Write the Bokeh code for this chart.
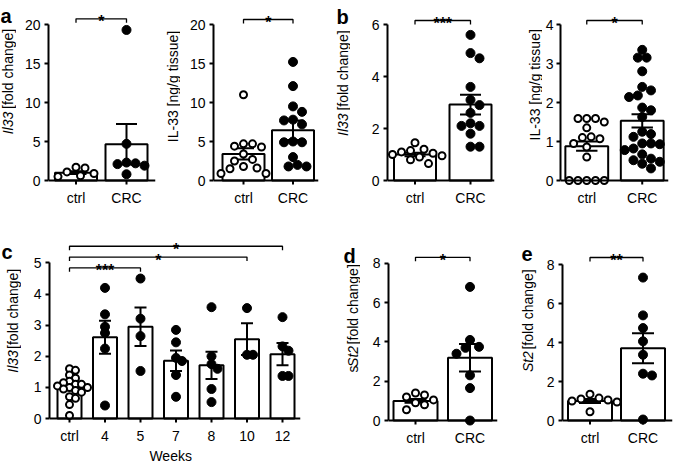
import math
from bokeh.plotting import figure
from bokeh.models import Range1d, FixedTicker, Span
from bokeh.layouts import row, column
from bokeh.embed import file_html
from bokeh.resources import INLINE
from bokeh.core.properties import value

FONT = "Liberation Sans"

# ---------------- data ----------------
groups2 = ["ctrl", "CRC"]

a1_ctrl = [1.7, 1.6, 1.1, 0.9, 0.6, 0.5]
a1_crc = [19.3, 4.7, 2.3, 2.2, 2.1, 1.9, 0.8]
a1_mean = [1.0, 4.65]
a1_sem = [0.18, 2.6]

a2_ctrl = [11.0, 4.7, 4.7, 4.4, 4.3, 3.4, 2.7, 2.5, 1.8, 1.6, 1.5, 0.9, 0.9]
a2_crc = [15.2, 12.1, 9.5, 8.8, 7.8, 7.7, 7.2, 5.0, 4.9, 4.9, 3.0, 2.0, 1.8, 1.8]
a2_mean = [3.4, 6.45]
a2_sem = [0.72, 1.25]

b1_ctrl = [1.45, 1.2, 1.15, 1.1, 1.05, 1.0, 0.95, 0.9, 0.8, 0.65]
b1_crc = [5.6, 4.9, 4.7, 3.6, 3.1, 2.9, 2.6, 2.2, 2.1, 2.1, 1.8, 1.3, 1.3]
b1_mean = [1.0, 2.92]
b1_sem = [0.07, 0.38]

b2_ctrl = [1.59, 1.59, 1.59, 1.5, 1.35, 1.12, 1.1, 1.07, 0.95, 0.86, 0.6, 0, 0, 0, 0, 0]
b2_crc = [3.35, 3.15, 3.15, 2.8, 2.4, 2.31, 2.18, 2.14, 1.87, 1.8, 1.63, 1.25, 1.19,
          1.12, 0.95, 0.95, 0.93, 0.82, 0.78, 0.67, 0.56, 0.52, 0.48, 0.43, 0.31]
b2_mean = [0.88, 1.53]
b2_sem = [0.12, 0.17]

weeks_cats = ["ctrl", "4", "5", "7", "8", "10", "12"]
c_ctrl = [1.6, 1.55, 1.4, 1.3, 1.2, 1.15, 1.1, 1.1, 1.05, 1.0, 1.0, 0.95, 0.9, 0.85, 0.7, 0.65, 0.45, 0.1]
c_w4 = [4.2, 3.35, 2.95, 2.75, 2.25, 0.42]
c_w5 = [4.5, 3.21, 2.65, 1.53]
c_w7 = [2.85, 2.45, 1.95, 1.85, 1.4, 0.7]
c_w8 = [3.58, 2.0, 1.75, 1.6, 0.95, 0.53]
c_w10 = [3.55, 2.05, 2.05]
c_w12 = [3.26, 2.32, 2.18, 1.37, 1.37]
c_mean = [1.0, 2.61, 2.95, 1.86, 1.71, 2.55, 2.07]
c_sem = [0.09, 0.53, 0.62, 0.33, 0.44, 0.51, 0.36]

d_ctrl = [1.4, 1.3, 1.2, 1.05, 0.9, 0.8, 0.55]
d_crc = [6.8, 4.1, 3.75, 3.7, 3.4, 2.3, 1.65, 0.0]
d_mean = [1.0, 3.2]
d_sem = [0.1, 0.7]

e_ctrl = [1.35, 1.15, 1.1, 1.05, 1.0, 0.95, 0.45]
e_crc = [7.33, 5.39, 4.74, 4.06, 3.37, 2.4, 2.31, 0.05]
e_mean = [1.0, 3.7]
e_sem = [0.1, 0.77]

IL33 = [("Il33", "italic"), (" [fold change]", "normal")]
IL33P = [("IL-33 [ng/g tissue]", "normal")]
SST2 = [("s", "normal"), ("St2", "italic"), (" [fold change]", "normal")]
ST2 = [("St2", "italic"), (" [fold change]", "normal")]

# ---------------- helpers ----------------
AW = {" ": 278, "I": 278, "l": 222, "3": 556, "[": 278, "]": 278, "f": 278, "o": 556,
      "d": 556, "c": 500, "h": 556, "a": 556, "n": 556, "g": 556, "e": 556, "L": 556,
      "-": 333, "/": 278, "t": 278, "i": 222, "s": 500, "u": 556, "S": 667, "2": 556}


def tw(s, fs):
    return sum(AW.get(ch, 556) for ch in s) * fs / 1000.0


def swarm(vals, sx, sy, dmin):
    order = sorted(range(len(vals)), key=lambda i: -vals[i])
    placed = []
    offs = [0.0] * len(vals)
    step = dmin * 0.5
    cands = [0.0]
    for j in range(1, 40):
        cands += [j * step, -j * step]
    for i in order:
        ypx = vals[i] * sy
        chosen = 0.0
        for c in cands:
            if all((c - px) ** 2 + (ypx - py) ** 2 >= dmin ** 2 for px, py in placed):
                chosen = c
                break
        placed.append((chosen, ypx))
        offs[i] = chosen / sx
    return offs


def base_fig(w, h, xr, yr, **kw):
    f = figure(width=w, height=h, output_backend="svg", toolbar_location=None,
               x_range=xr, y_range=yr, **kw)
    f.xgrid.visible = False
    f.ygrid.visible = False
    f.outline_line_color = None
    f.background_fill_color = "white"
    f.border_fill_color = "white"
    return f


def text_fig(x0, x1, y0, y1, items):
    """A plain figure whose frame covers it all; data units equal page pixels (y negated)."""
    f = base_fig(x1 - x0, y1 - y0, Range1d(x0, x1), Range1d(-y1, -y0),
                 x_axis_location=None, y_axis_location=None,
                 min_border_left=0, min_border_right=0, min_border_top=0, min_border_bottom=0)
    for it in items:
        kind = it[0]
        if kind == "ytitle":
            _, parts, cx, cy = it
            total = sum(tw(t, 14) for t, _ in parts)
            pos = cy + total / 2
            prev_italic = False
            for t, style in parts:
                st = t.lstrip(" ")
                gap = tw(t[:len(t) - len(st)], 14)
                if gap and prev_italic:
                    gap += 3.5
                pos -= gap
                f.text(x=[cx], y=[-pos], text=[st], angle=math.pi / 2, text_align="left",
                       text_baseline="middle", text_font=value(FONT), text_font_size="14px",
                       text_font_style=style, text_color="black")
                pos -= tw(st, 14)
                prev_italic = style == "italic"
        elif kind == "letter":
            _, t, lx, ly = it
            f.text(x=[lx], y=[-ly], text=[t], text_align="left", text_baseline="alphabetic",
                   text_font=value(FONT), text_font_size="20px", text_font_style="bold",
                   text_color="black")
        elif kind == "xtitle":
            _, t, tx, ty = it
            f.text(x=[tx], y=[-ty], text=[t], text_align="center", text_baseline="middle",
                   text_font=value(FONT), text_font_size="14px", text_color="black")
    return f


def panel(spec):
    fx, fw, ry, rh = spec["fig"]
    FL, FR, FT = spec["frame"]
    y0, ytop, ymax = spec["y0"], spec["ytop"], spec["ymax"]
    FB = y0 + 6
    c0, sp = spec["c0"], spec["sp"]
    k = (y0 - ytop) / ymax
    p = base_fig(fw, rh, Range1d(-(c0 - FL) / sp, (FR - c0) / sp),
                 Range1d(-(FB - y0) / k, (y0 - FT) / k),
                 min_border_left=FL - fx, min_border_right=fx + fw - FR,
                 min_border_top=FT - ry, min_border_bottom=ry + rh - FB)
    cats = spec["cats"]
    idx = list(range(len(cats)))
    xa = p.xaxis[0]
    ya = p.yaxis[0]
    for ax in (xa, ya):
        ax.minor_tick_line_color = None
        ax.major_label_text_font = FONT
        ax.major_label_text_font_size = "14px"
        ax.major_label_text_color = "black"
    ya.axis_line_width = 2
    ya.axis_line_color = "black"
    ya.major_tick_line_width = 2
    ya.major_tick_line_color = "black"
    ya.major_tick_out = 4
    ya.major_tick_in = 0
    ya.major_label_standoff = spec.get("ystandoff", 4)
    ya.ticker = FixedTicker(ticks=spec["yticks"])
    ya.bounds = (0, ymax)
    # category axis: labels from bokeh's axis, line and ticks drawn at y = 0
    xa.ticker = FixedTicker(ticks=idx)
    xa.major_label_overrides = {i: c for i, c in enumerate(cats)}
    xa.axis_line_color = None
    xa.major_tick_line_color = None
    xa.major_tick_out = 0
    xa.major_tick_in = 0
    xa.major_label_standoff = 3
    p.add_layout(Span(location=0, dimension="width", line_color="black", line_width=2))
    p.segment(x0=idx, y0=[0] * len(idx), x1=idx, y1=[-4 / k] * len(idx),
              line_color="black", line_width=2)

    bw = spec["bw"] / sp
    means, sems = spec["mean"], spec["sem"]
    p.vbar(x=idx, top=means, bottom=0, width=bw, fill_color="white",
           line_color="black", line_width=2)
    lo = [m - s for m, s in zip(means, sems)]
    hi = [m + s for m, s in zip(means, sems)]
    cw = bw * 0.5
    p.segment(x0=idx, y0=lo, x1=idx, y1=hi, line_color="black", line_width=2)
    for ends in (lo, hi):
        p.segment(x0=[i - cw / 2 for i in idx], y0=ends, x1=[i + cw / 2 for i in idx], y1=ends,
                  line_color="black", line_width=2)
    for i, vals in enumerate(spec["groups"]):
        offs = swarm(vals, sp, k, spec["dmin"])
        xs = [i + o for o in offs]
        if i == 0:
            p.scatter(xs, vals, marker="circle", size=7, fill_color="white",
                      line_color="black", line_width=2)
        else:
            p.scatter(xs, vals, marker="circle", size=9, fill_color="black",
                      line_color="black", line_width=1)

    tk = 4 / k
    for i0, i1, stars, off_px in spec["sig"]:
        lvl = ymax + off_px / k
        p.multi_line(xs=[[i0, i0, i1, i1]], ys=[[lvl - tk, lvl, lvl, lvl - tk]],
                     line_color="black", line_width=1.3)
        p.text(x=[(i0 + i1) / 2], y=[lvl], text=[stars], text_align="center",
               text_baseline="alphabetic", y_offset=3, text_font=value(FONT),
               text_font_style="bold", text_font_size="16px", text_color="black")
    return p


specs = {
    "a1": dict(fig=(16, 149, 0, 215), frame=(48, 155, 4), y0=180, ytop=24, ymax=20,
               yticks=[0, 5, 10, 15, 20], c0=75.5, sp=50.5, bw=42, cats=groups2,
               groups=[a1_ctrl, a1_crc], mean=a1_mean, sem=a1_sem, dmin=9,
               sig=[(0, 1, "*", 5.7)]),
    "a2": dict(fig=(180, 155, 0, 215), frame=(213, 318, 4), y0=180, ytop=24, ymax=20,
               yticks=[0, 5, 10, 15, 20], c0=243, sp=49.5, bw=42, cats=groups2,
               groups=[a2_ctrl, a2_crc], mean=a2_mean, sem=a2_sem, dmin=9,
               sig=[(0, 1, "*", 5)]),
    "b1": dict(fig=(350, 150, 0, 215), frame=(387, 494, 4), y0=180, ytop=24, ymax=6,
               yticks=[0, 2, 4, 6], c0=414.5, sp=55.5, bw=42, cats=groups2,
               groups=[b1_ctrl, b1_crc], mean=b1_mean, sem=b1_sem, dmin=9,
               sig=[(0, 1, "***", 4)]),
    "b2": dict(fig=(542, 131, 0, 215), frame=(557, 668, 4), y0=180, ytop=24, ymax=4,
               yticks=[0, 1, 2, 3, 4], c0=584, sp=57, bw=44, cats=groups2,
               groups=[b2_ctrl, b2_crc], mean=b2_mean, sem=b2_sem, dmin=9,
               sig=[(0, 1, "*", 4)], ystandoff=3),
    "c": dict(fig=(21, 319, 215, 231), frame=(49, 300, 229), y0=421, ytop=263, ymax=5,
              yticks=[0, 1, 2, 3, 4, 5], c0=69, sp=35.5, bw=24, cats=weeks_cats,
              groups=[c_ctrl, c_w4, c_w5, c_w7, c_w8, c_w10, c_w12], mean=c_mean, sem=c_sem,
              dmin=6, sig=[(0, 2, "***", -5), (0, 5, "*", 6), (0, 6, "*", 17)]),
    "d": dict(fig=(360, 145, 215, 248), frame=(388, 497, 229), y0=421, ytop=263, ymax=8,
              yticks=[0, 2, 4, 6, 8], c0=415, sp=54.5, bw=44, cats=groups2,
              groups=[d_ctrl, d_crc], mean=d_mean, sem=d_sem, dmin=9,
              sig=[(0, 1, "*", 6)]),
    "e": dict(fig=(540, 133, 215, 248), frame=(562, 672, 229), y0=420, ytop=264, ymax=8,
              yticks=[0, 2, 4, 6, 8], c0=589.5, sp=53, bw=44, cats=groups2,
              groups=[e_ctrl, e_crc], mean=e_mean, sem=e_sem, dmin=9,
              sig=[(0, 1, "**", 7)]),
}

P = {key: panel(s) for key, s in specs.items()}

t_a1 = text_fig(0, 16, 0, 215, [("ytitle", IL33, 7.5, 100), ("letter", "a", 0, 14)])
t_a2 = text_fig(165, 180, 0, 215, [("ytitle", IL33P, 172, 107)])
t_b1 = text_fig(335, 350, 0, 215, [("ytitle", IL33, 342, 102), ("letter", "b", 336, 15)])
t_b2 = text_fig(500, 542, 0, 215, [("ytitle", IL33P, 534, 105)])
t_c = text_fig(0, 21, 215, 463, [("ytitle", IL33, 12.5, 342), ("letter", "c", 1, 243)])
t_w = text_fig(21, 340, 446, 463, [("xtitle", "Weeks", 175, 455)])
t_d = text_fig(340, 360, 215, 463, [("ytitle", SST2, 352, 339), ("letter", "d", 343, 248)])
t_e = text_fig(505, 540, 215, 463, [("ytitle", ST2, 527, 342), ("letter", "e", 521, 246)])

top = row(t_a1, P["a1"], t_a2, P["a2"], t_b1, P["b1"], t_b2, P["b2"])
bot = row(t_c, column(P["c"], t_w), t_d, P["d"], t_e, P["e"])
root = column(top, bot)

open("out.html", "w").write(file_html(root, INLINE))
